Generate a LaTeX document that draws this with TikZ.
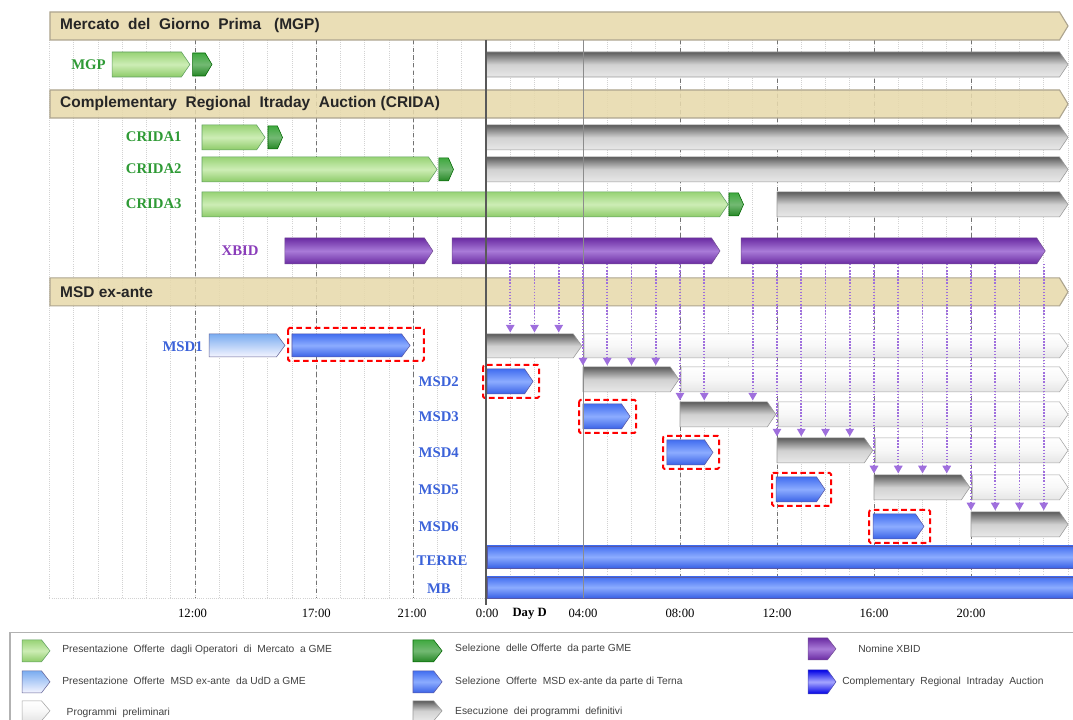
\documentclass[tikz,border=0pt]{standalone}
\usepackage{fontspec}
\setmainfont{Liberation Serif}
\setsansfont{Liberation Sans}
\usetikzlibrary{arrows.meta}

\definecolor{bandfill}{HTML}{E7D9AC}
\definecolor{bandline}{HTML}{ADA58F}
\definecolor{labgreen}{HTML}{2E9A35}
\definecolor{labpurple}{HTML}{8A3DBA}
\definecolor{labblue}{HTML}{3B62D9}
\definecolor{arrpurple}{HTML}{9F6FDD}
\definecolor{grntop}{HTML}{98D376}
\definecolor{grnmid}{HTML}{CDEDB5}
\definecolor{grnbot}{HTML}{8DCB68}
\definecolor{xbidtop}{HTML}{6A2BA2}
\definecolor{xbidmid}{HTML}{A97BD8}

\begin{document}
\begin{tikzpicture}[x=0.60625cm, y=-0.025cm,
	pics/bar/.style args={#1/#2/#3}{code={\pgfmathsetmacro\tp{min(0.35,0.35*(#1))}\pgfmathsetmacro\ln{#1}
		\path[#3] (0,0) -- ({\ln-\tp},0) -- (\ln,{#2/2}) -- ({\ln-\tp},#2) -- (0,#2) -- cycle;}},
	band/.style={draw=bandline, fill=bandfill, fill opacity=0.88, line width=0.8pt},
	bandtext/.style={font=\sffamily\bfseries\fontsize{11}{13}\selectfont, text=black!85, anchor=west, inner sep=0},
	lgreen/.style={draw=green!25!gray, top color=grntop, bottom color=grnbot, middle color=grnmid},
	dgreen/.style={draw=green!40!black, top color=green!55!black!75, bottom color=green!45!black!85, middle color=green!50!black!55},
	xbid/.style={draw=xbidtop!60!gray, top color=xbidtop, bottom color=xbidtop, middle color=xbidmid},
	lblue/.style={draw=blue!20!gray, top color={rgb,255:red,122;green,172;blue,240}, bottom color=blue!4!white},
	tblue/.style={draw=blue!30!gray, top color={rgb,255:red,66;green,110;blue,240}, bottom color={rgb,255:red,58;green,98;blue,230}, middle color={rgb,255:red,140;green,172;blue,255}},
	cblue/.style={draw=blue!40!gray, top color=blue!90!black, bottom color=blue!90!black, middle color=blue!35!white},
	dgray/.style={draw=gray!80, top color=black!64, bottom color=black!9, middle color=black!18},
	lgray/.style={draw=gray!70, top color=white, bottom color=black!10, middle color=black!3},
	hourline/.style={gray!35, densely dotted, line width=0.5pt},
	halfline/.style={black!55, dash pattern=on 3pt off 2.5pt, line width=0.7pt},
	selbox/.style={red, dash pattern=on 4pt off 2.5pt, line width=1.4pt, rounded corners=1pt},
	xarr/.style={arrpurple, dash pattern=on 1pt off 1.2pt, line width=1.1pt, -{Triangle[width=6pt,length=5.5pt]}, shorten >=1pt},
	glabel/.style={font=\bfseries\fontsize{10.5}{12}\selectfont, text=labgreen, inner sep=0},
	plabel/.style={glabel, text=labpurple},
	blabel/.style={glabel, text=labblue},
	hlabel/.style={font=\fontsize{9}{11}\selectfont, inner sep=0},
	legtext/.style={font=\sffamily\fontsize{7.3}{9}\selectfont, text=black!75, anchor=west, inner sep=0}
]
\useasboundingbox (-20.041,0) rectangle (24.206,720);

% time grid
\foreach \h in {-18,...,24} \draw[hourline] (\h,40) -- (\h,598);
\foreach \h in {-12,-7,-3,8,12,16,20} \draw[halfline] (\h,40) -- (\h,598);
\draw[hourline] (-18,598) -- (24,598);

% section bands
\foreach \y/\name/\txt in {12/mgphead/Mercato \ del \ Giorno \ Prima \ \ (MGP),
		90/cridahead/Complementary \ Regional \ Itraday \ Auction (CRIDA),
		278/msdhead/MSD ex-ante}{
	\pic at (-17.98,\y) {bar=41.98/28/band};
	\node[bandtext] (\name) at (-17.57,\y+14) {\txt};}

% MGP and CRIDA
\pic at (-15.42,52) {bar=3.21/25/lgreen};
\pic at (-12.1,53) {bar=0.8/23/dgreen};
\pic at (0,52) {bar=24/25/dgray};
\node[glabel, anchor=east] (mgp) at (-15.67,65) {MGP};
\foreach \y/\len/\sel/\ex[count=\i] in {125/2.6/-8.99/0, 157/9.69/-1.94/0, 192/21.69/10.02/12}{
	\pic at (-11.71,\y) {bar=\len/25/lgreen};
	\pic at (\sel,\y+1) {bar=0.6/23/dgreen};
	\pic at (\ex,\y) {bar={24-\ex}/25/dgray};
	\node[glabel, anchor=east] (crida\i) at (-12.54,\y+12) {CRIDA\i};}

% XBID
\pic at (-8.29,238) {bar=6.1/26/xbid};
\pic at (-1.40,238) {bar=11.05/26/xbid};
\pic at (10.52,238) {bar=12.54/26/xbid};
\node[plabel] (xbidlab) at (-10.14,251) {XBID};
\coordinate (xbid) at (0,264);

% MSD ex-ante
\pic at (-11.42,334) {bar=3.13/23/lblue};
\pic at (-8.0,334) {bar=4.87/23/tblue};
\draw[selbox] (-8.16,328) rectangle (-2.56,361);
\node[blabel, anchor=east] (msd1lab) at (-11.67,347) {MSD1};
\pic at (0,334) {bar=3.95/24/dgray};
\pic at (4.05,334) {bar=19.95/24/lgray};
\coordinate (msd1) at (0,334);
\foreach \y/\b/\bl/\g/\gl/\pl[count=\i from 2] in {367/0.04/1.9/4/3.95/15.95, 402/4.0/1.94/8/3.95/11.95,
		438/7.46/1.9/12/3.95/7.95, 475/11.96/2.02/16/3.95/3.95, 512/15.96/2.1/20/4/0}{
	\pic at (\b,\y+2) {bar=\bl/25/tblue};
	\draw[selbox] ({\b-0.16},\y-2) rectangle ({\b+\bl+0.25},\y+31);
	\pic at (\g,\y) {bar=\gl/25/dgray};
	\ifdim\pl pt>0pt \pic at (\g+4.05,\y) {bar=\pl/25/lgray}; \fi
	\node[blabel] (msd\i lab) at (-1.95,\y+15) {MSD\i};
	\coordinate (msd\i) at (0,\y);}

% TERRE and MB
\path[tblue] (0.04,546) rectangle (24.25,568);
\path[tblue] (0.04,577) rectangle (24.25,598);
\node[blabel] (terre) at (-1.81,561) {TERRE};
\node[blabel] (mb) at (-1.94,589) {MB};

% day boundaries
\draw[black!45, line width=0.7pt] (4,40) -- (4,598);
\draw[black!65, line width=2pt] (0,40) -- (0,605);

% XBID nominations
\foreach \h/\r in {1/msd1,2/msd1,3/msd1,4/msd2,5/msd2,6/msd2,7/msd2,8/msd3,9/msd3,11/msd3,
		12/msd4,13/msd4,14/msd4,15/msd4,16/msd5,17/msd5,18/msd5,19/msd5,20/msd6,21/msd6,22/msd6,23/msd6}
	\draw[xarr] (\h,0 |- xbid) -- (\h,0 |- \r);

% time axis
\foreach \h/\t in {-12.1/12:00, -7/17:00, -3.05/21:00, 0.05/0:00, 4/04:00, 8/08:00, 12/12:00, 16/16:00, 20/20:00}
	\node[hlabel] at (\h,614) {\t};
\node[hlabel, font=\bfseries\fontsize{9}{11}\selectfont] (dayd) at (1.8,614) {Day D};

% legend
\draw[gray!60, line width=0.8pt] (-19.63,720) -- (-19.63,633) -- (24.21,633);
\pic at (-19.13,640) {bar=1.15/22/lgreen};
\pic at (-19.13,671) {bar=1.15/22/lblue};
\pic at (-19.13,701) {bar=1.15/20/lgray};
\pic at (-3.01,640) {bar=1.2/22/dgreen};
\pic at (-3.01,671) {bar=1.2/22/tblue};
\pic at (-3.01,701) {bar=1.2/20/dgray};
\pic at (13.28,638) {bar=1.15/22/xbid};
\pic at (13.28,670) {bar=1.15/24/cblue};
\node[legtext] (leg1) at (-17.48,650) {Presentazione \ Offerte \ dagli Operatori \ di \ Mercato \ a GME};
\node[legtext] (leg2) at (-17.48,681) {Presentazione \ Offerte \ MSD ex-ante \ da UdD a GME};
\node[legtext] (leg3) at (-17.3,713) {Programmi \ preliminari};
\node[legtext] (leg4) at (-1.28,649) {Selezione \ delle Offerte \ da parte GME};
\node[legtext] (leg5) at (-1.28,682) {Selezione \ Offerte \ MSD ex-ante da parte di Terna};
\node[legtext] (leg6) at (-1.28,712) {Esecuzione \ dei programmi \ definitivi};
\node[legtext] (leg7) at (15.34,649) {Nomine XBID};
\node[legtext] (leg8) at (14.68,682) {Complementary \ Regional \ Intraday \ Auction};
\end{tikzpicture}
\end{document}
